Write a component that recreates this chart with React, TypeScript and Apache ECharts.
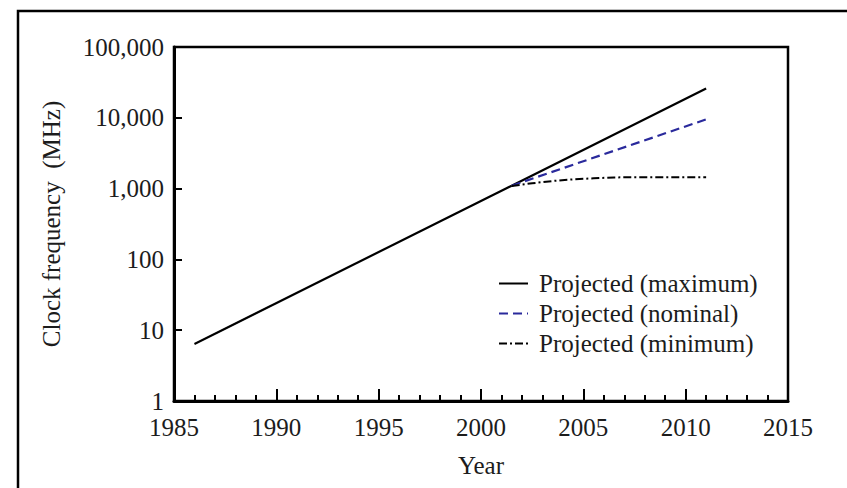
import React, { useEffect, useRef } from "react";
import * as echarts from "echarts";

const historical: [number, number][] = [
  [1986, 6.4],
  [2001.5, 1100],
];
const projectedMax: [number, number][] = [
  [2001.5, 1100],
  [2011, 26000],
];
const projectedNominal: [number, number][] = [
  [2001.5, 1100],
  [2011, 9500],
];
const projectedMin: [number, number][] = [
  [2001.5, 1090],
  [2002.5, 1190],
  [2003.5, 1280],
  [2004.5, 1350],
  [2005.5, 1400],
  [2006.5, 1440],
  [2011, 1450],
];
const legendNames = ["Projected (maximum)", "Projected (nominal)", "Projected (minimum)"];

const FONT = "Liberation Serif";
const TXT = "#1c1c1c";
const FS = 25;

export default function App() {
  const ref = useRef<HTMLDivElement>(null);
  useEffect(() => {
    if (!ref.current) return;
    const chart = echarts.init(ref.current, undefined, { renderer: "svg" });
    chart.setOption({
      animation: false,
      backgroundColor: "#fff",
      textStyle: { fontFamily: FONT, color: TXT },
      grid: {
        left: 174,
        right: 59,
        top: 47,
        bottom: 87,
        show: true,
        borderColor: "#000",
        borderWidth: 2.5,
        backgroundColor: "transparent",
      },
      graphic: [
        {
          type: "rect",
          shape: { x: 18, y: 11, width: 1000, height: 1000 },
          style: { fill: "none", stroke: "#000", lineWidth: 2.5 },
          silent: true,
        },
      ],
      legend: {
        orient: "vertical",
        left: 493,
        top: 266,
        itemWidth: 29,
        itemHeight: 14,
        itemGap: 5,
        data: legendNames,
        itemStyle: { opacity: 0 },
        textStyle: { fontFamily: FONT, fontSize: FS, color: TXT, lineHeight: 25, padding: [0, 0, 0, 6] },
      },
      xAxis: {
        type: "value",
        min: 1985,
        max: 2015,
        interval: 5,
        name: "Year",
        nameLocation: "middle",
        nameGap: 52,
        nameTextStyle: { fontFamily: FONT, fontSize: FS, color: TXT },
        axisLine: { lineStyle: { color: "#000", width: 3 } },
        axisTick: { inside: true, length: 12, lineStyle: { color: "#000", width: 2 } },
        minorTick: { show: true, splitNumber: 5, length: 6, lineStyle: { color: "#000", width: 2 } },
        splitLine: { show: false },
        axisLabel: {
          fontFamily: FONT,
          fontSize: FS,
          color: TXT,
          margin: 14,
          formatter: (v: number) => String(v),
        },
      },
      yAxis: {
        type: "log",
        logBase: 10,
        min: 1,
        max: 100000,
        name: "Clock frequency  (MHz)",
        nameLocation: "middle",
        nameRotate: 90,
        nameGap: 110,
        nameTextStyle: { fontFamily: FONT, fontSize: FS, color: TXT },
        axisLine: { lineStyle: { color: "#000", width: 3 } },
        axisTick: { inside: true, length: 8, lineStyle: { color: "#000", width: 2 } },
        splitLine: { show: false },
        axisLabel: {
          fontFamily: FONT,
          fontSize: FS,
          color: TXT,
          margin: 10,
          formatter: (v: number) => Math.round(v).toLocaleString("en-US"),
        },
      },
      series: [
        {
          name: "Historical",
          type: "line",
          data: historical,
          symbol: "none",
          lineStyle: { color: "#000", width: 2.2, type: "solid" },
          itemStyle: { color: "#000" },
        },
        {
          name: legendNames[0],
          type: "line",
          data: projectedMax,
          symbol: "none",
          lineStyle: { color: "#000", width: 2.2, type: "solid" },
          itemStyle: { color: "#000" },
        },
        {
          name: legendNames[1],
          type: "line",
          data: projectedNominal,
          symbol: "none",
          lineStyle: { color: "#2a2a9c", width: 2.2, type: [9, 5] },
          itemStyle: { color: "#2a2a9c" },
        },
        {
          name: legendNames[2],
          type: "line",
          data: projectedMin,
          symbol: "none",
          lineStyle: { color: "#000", width: 2, type: [8, 3, 2, 3] },
          itemStyle: { color: "#000" },
        },
      ],
    });
    return () => chart.dispose();
  }, []);
  return (
    <div
      ref={ref}
      style={{ position: "absolute", left: 0, top: 0, width: 847, height: 488, background: "#fff" }}
    />
  );
}
